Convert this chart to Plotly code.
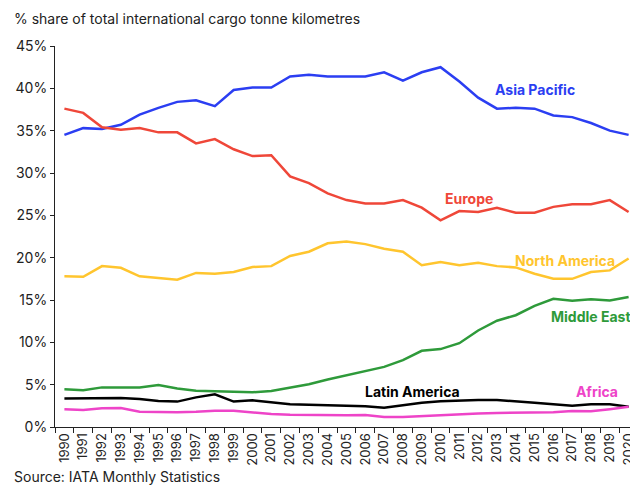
import plotly.graph_objects as go

years = [str(y) for y in range(1990, 2021)]

asia_pacific = [34.5, 35.3, 35.2, 35.7, 36.9, 37.7, 38.4, 38.6, 37.9, 39.8, 40.1, 40.1, 41.4, 41.6, 41.4,
                41.4, 41.4, 41.9, 40.9, 41.9, 42.5, 40.8, 38.9, 37.6, 37.7, 37.6, 36.8, 36.6, 35.9, 35.0, 34.5]
europe = [37.6, 37.1, 35.4, 35.1, 35.3, 34.8, 34.8, 33.5, 34.0, 32.8, 32.0, 32.1, 29.6, 28.8, 27.6,
          26.8, 26.4, 26.4, 26.8, 25.9, 24.4, 25.5, 25.4, 25.9, 25.3, 25.3, 26.0, 26.3, 26.3, 26.8, 25.4]
north_america = [17.8, 17.75, 19.0, 18.8, 17.8, 17.6, 17.4, 18.2, 18.1, 18.3, 18.9, 19.0, 20.2, 20.7, 21.7,
                 21.9, 21.6, 21.05, 20.7, 19.1, 19.5, 19.1, 19.4, 19.0, 18.85, 18.1, 17.5, 17.5, 18.3, 18.5, 19.9]
middle_east = [4.45, 4.33, 4.68, 4.68, 4.68, 4.96, 4.56, 4.29, 4.21, 4.13, 4.09, 4.25, 4.6, 5.04, 5.6,
               6.08, 6.65, 7.1, 7.9, 9.0, 9.2, 9.9, 11.4, 12.55, 13.2, 14.3, 15.15, 14.9, 15.1, 14.95, 15.35]
latin_america = [3.38, 3.38, 3.38, 3.42, 3.3, 3.07, 3.0, 3.5, 3.86, 3.0, 3.15, 2.95, 2.7, 2.63, 2.56,
                 2.52, 2.44, 2.28, 2.6, 2.87, 3.03, 3.15, 3.19, 3.19, 3.07, 2.87, 2.7, 2.52, 2.68, 2.7, 2.4]
africa = [2.09, 2.0, 2.2, 2.24, 1.8, 1.73, 1.73, 1.8, 1.93, 1.93, 1.69, 1.53, 1.45, 1.42, 1.38,
          1.38, 1.42, 1.18, 1.18, 1.3, 1.42, 1.5, 1.6, 1.66, 1.69, 1.73, 1.73, 1.89, 1.85, 2.1, 2.4]

series = [
    ("Asia Pacific", asia_pacific, "#2B3EF2"),
    ("Europe", europe, "#EF4739"),
    ("North America", north_america, "#FFC52E"),
    ("Middle East", middle_east, "#2E9A3A"),
    ("Latin America", latin_america, "#000000"),
    ("Africa", africa, "#EE44C8"),
]

# label anchor positions (category index, value)
label_pos = {
    "Asia Pacific": (25.0, 39.9),
    "Europe": (21.5, 27.0),
    "North America": (26.6, 19.7),
    "Middle East": (28.0, 13.0),
    "Latin America": (18.5, 4.25),
    "Africa": (28.3, 4.25),
}

yticks = list(range(0, 46, 5))

# page body has an 8px default margin, so the figure is drawn 8px in from the window corner
OFF = 8
W, H = 638 - OFF, 486 - OFF
ml, mr, mt = 55 - OFF, 0, 46 - OFF
mb = H - (427 - OFF)
pw, ph = W - ml - mr, H - mt - mb


def px_to_paper(px, py):
    # px, py given in window pixels
    return (px - OFF - ml) / pw, 1 - (py - OFF - mt) / ph


fig = go.Figure()
for name, vals, col in series:
    fig.add_trace(go.Scatter(x=years, y=vals, mode="lines", name=name,
                             line=dict(color=col, width=2.5)))

annotations = []
for name, vals, col in series:
    lx, ly = label_pos[name]
    annotations.append(dict(x=lx, y=ly, xref="x", yref="y", text="<b>%s</b>" % name,
                            showarrow=False, font=dict(color=col, size=14, family="Inter")))

sx, sy = px_to_paper(12, 18)
annotations.append(dict(x=sx, y=sy, xref="paper", yref="paper",
                        text="% share of total international cargo tonne kilometres",
                        showarrow=False, xanchor="left", yanchor="middle", font=dict(size=14, color="#222")))
sx, sy = px_to_paper(12, 476)
annotations.append(dict(x=sx, y=sy, xref="paper", yref="paper", text="Source: IATA Monthly Statistics",
                        showarrow=False, xanchor="left", yanchor="middle", font=dict(size=14, color="#222")))

fig.update_layout(
    width=W, height=H,
    margin=dict(l=ml, r=mr, t=mt, b=mb, autoexpand=False),
    paper_bgcolor="white", plot_bgcolor="white",
    showlegend=False,
    font=dict(family="Inter", size=14, color="#222"),
    annotations=annotations,
    xaxis=dict(type="category", range=[-0.5, 30.5], tickson="boundaries", automargin=False,
               ticks="outside", ticklen=5, tickcolor="#222", showline=True, linecolor="#222",
               linewidth=1, showgrid=False, tickangle=-90, tickfont=dict(size=13), zeroline=False),
    yaxis=dict(range=[0, 45], tickvals=yticks, ticktext=["%d%%" % v for v in yticks], automargin=False,
               ticks="outside", ticklen=4, tickcolor="#222", showline=True, linecolor="#222",
               linewidth=1, showgrid=False, zeroline=False, tickfont=dict(size=14)),
)
fig.write_html("out.html")
